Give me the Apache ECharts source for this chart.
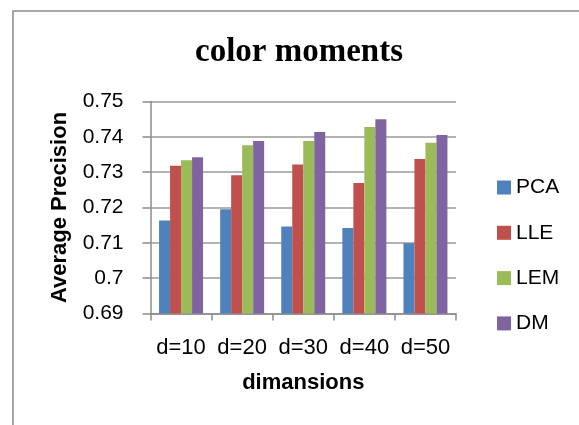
<!DOCTYPE html>
<html>
<head>
<meta charset="utf-8">
<script src="https://cdn.jsdelivr.net/npm/echarts@6/dist/echarts.min.js"></script>
<style>
  html, body { margin: 0; padding: 0; background: #fff; }
  #chart { width: 579px; height: 425px; }
</style>
</head>
<body>
<div id="chart"></div>
<script>
// Dimension settings on the x axis
const categories = ['d=10', 'd=20', 'd=30', 'd=40', 'd=50'];

// Average precision per method
const pca = [0.7163, 0.7195, 0.7146, 0.7142, 0.7099];
const lle = [0.7318, 0.7291, 0.7322, 0.7269, 0.7337];
const lem = [0.7334, 0.7376, 0.7388, 0.7428, 0.7383];
const dm  = [0.7342, 0.7388, 0.7414, 0.7450, 0.7405];

const seriesNames = ['PCA', 'LLE', 'LEM', 'DM'];
const seriesValues = [pca, lle, lem, dm];
const colors = ['#4F81BD', '#C0504D', '#9BBB59', '#8064A2'];

// Value axis range
const yMin = 0.69;
const yMax = 0.75;
const yStep = 0.01;

const sansFont = '"Liberation Sans", Arial, sans-serif';
const axisGray = '#8c8c8c';

const chart = echarts.init(document.getElementById('chart'), null, { renderer: 'canvas' });

chart.setOption({
  animation: false,
  backgroundColor: '#ffffff',
  color: colors,
  title: {
    text: 'color moments',
    left: 299,
    top: 36,
    textAlign: 'center',
    padding: 0,
    textStyle: {
      fontFamily: '"Liberation Serif", "Times New Roman", serif',
      fontWeight: 'bold',
      fontSize: 33,
      color: '#000'
    }
  },
  graphic: [{
    type: 'rect',
    shape: { x: 13, y: 11, width: 620, height: 460 },
    style: { fill: 'none', stroke: '#8a8a8a', lineWidth: 1.5 },
    silent: true
  }],
  legend: {
    orient: 'vertical',
    left: 497,
    top: 177,
    itemWidth: 14,
    itemHeight: 14,
    itemGap: 24.3,
    icon: 'rect',
    padding: 0,
    data: seriesNames,
    textStyle: {
      fontFamily: sansFont,
      fontSize: 21,
      color: '#000'
    }
  },
  grid: {
    left: 150.5,
    right: 123,
    top: 101.5,
    bottom: 111.5,
    containLabel: false
  },
  xAxis: {
    type: 'category',
    data: categories,
    name: 'dimansions',
    nameLocation: 'middle',
    nameGap: 58,
    nameTextStyle: {
      fontFamily: sansFont,
      fontWeight: 'bold',
      fontSize: 22,
      color: '#000'
    },
    axisLine: { show: true, lineStyle: { color: axisGray, width: 1.5 } },
    axisTick: { show: true, length: 7, lineStyle: { color: axisGray, width: 1.5 } },
    axisLabel: {
      interval: 0,
      margin: 23,
      fontFamily: sansFont,
      fontSize: 22,
      color: '#000'
    }
  },
  yAxis: {
    type: 'value',
    min: yMin,
    max: yMax,
    interval: yStep,
    name: 'Average Precision',
    nameLocation: 'middle',
    nameRotate: 90,
    nameGap: 80,
    nameTextStyle: {
      fontFamily: sansFont,
      fontWeight: 'bold',
      fontSize: 22,
      color: '#000'
    },
    axisLine: { show: true, lineStyle: { color: axisGray, width: 1.5 } },
    axisTick: { show: true, length: 8, lineStyle: { color: axisGray, width: 1.5 } },
    splitLine: { show: true, lineStyle: { color: '#9a9a9a', width: 1.5 } },
    axisLabel: {
      margin: 27,
      fontFamily: sansFont,
      fontSize: 21,
      color: '#000',
      formatter: v => String(+v.toFixed(2))
    }
  },
  series: seriesNames.map((name, i) => ({
    name: name,
    type: 'bar',
    data: seriesValues[i],
    barGap: '0%',
    barCategoryGap: '28%',
    itemStyle: { color: colors[i] }
  }))
});
</script>
</body>
</html>
